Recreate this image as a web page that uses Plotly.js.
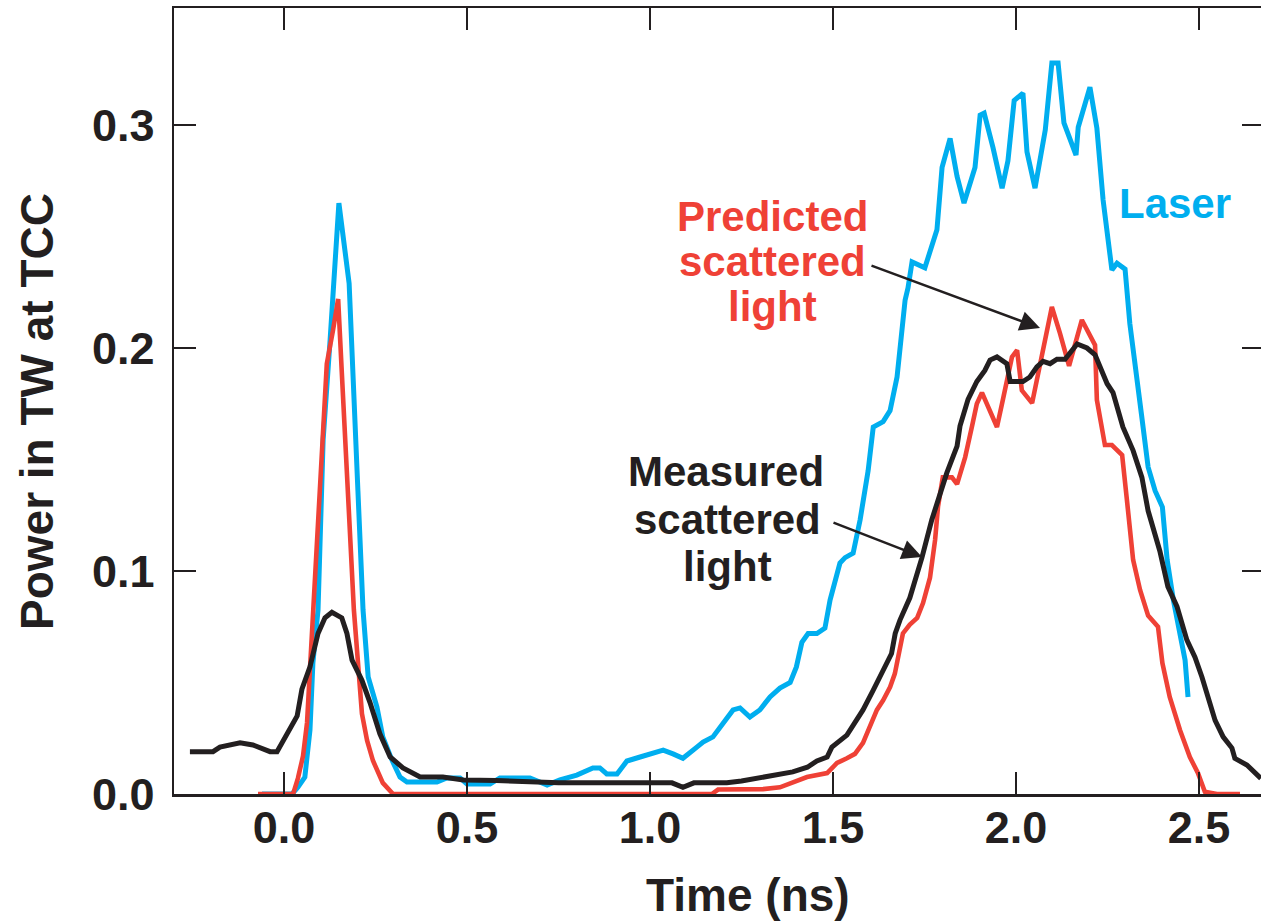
<!DOCTYPE html>
<html>
<head>
<meta charset="utf-8">
<script src="https://cdn.plot.ly/plotly-3.0.1.min.js"></script>
<style>
html, body { margin: 0; padding: 0; overflow: hidden; background: #fff; }
#chart { width: 1265px; height: 921px; }
</style>
</head>
<body>
<div id="chart"></div>
<script>
// ---- Data ----
const laserTime = [-0.06,0.022,0.038,0.057,0.071,0.079,0.093,0.107,0.126,0.145,0.150,0.178,0.189,0.202,0.216,0.23,0.254,0.27,0.295,0.317,0.336,0.418,0.445,0.481,0.50,0.563,0.59,0.672,0.719,0.754,0.80,0.844,0.863,0.882,0.91,0.937,0.973,1.0,1.036,1.063,1.09,1.128,1.145,1.172,1.2,1.227,1.246,1.273,1.30,1.328,1.355,1.383,1.40,1.415,1.432,1.456,1.478,1.492,1.519,1.533,1.555,1.574,1.596,1.61,1.637,1.656,1.675,1.689,1.697,1.705,1.716,1.751,1.784,1.798,1.82,1.839,1.858,1.888,1.902,1.913,1.937,1.962,1.978,1.995,2.019,2.03,2.052,2.08,2.098,2.115,2.131,2.164,2.17,2.202,2.221,2.238,2.262,2.276,2.298,2.311,2.325,2.343,2.361,2.38,2.40,2.413,2.43,2.443,2.462,2.47];
const laserPower = [0,0,0.003,0.0076,0.0287,0.0587,0.0825,0.159,0.2036,0.256,0.265,0.229,0.181,0.136,0.0825,0.0525,0.039,0.0256,0.0152,0.0076,0.0054,0.0054,0.0072,0.0072,0.0045,0.0045,0.0072,0.0072,0.004,0.0063,0.0085,0.0117,0.0117,0.009,0.009,0.0148,0.0166,0.018,0.0197,0.018,0.016,0.021,0.0233,0.0256,0.032,0.0377,0.0386,0.0345,0.0377,0.0435,0.0475,0.050,0.057,0.068,0.072,0.072,0.0744,0.087,0.1036,0.106,0.108,0.1229,0.145,0.1646,0.167,0.172,0.187,0.2126,0.2215,0.227,0.2386,0.236,0.253,0.281,0.294,0.277,0.265,0.281,0.3045,0.3054,0.290,0.2717,0.284,0.311,0.3143,0.288,0.2717,0.2978,0.3278,0.3278,0.301,0.2865,0.299,0.317,0.2986,0.2664,0.235,0.238,0.2354,0.211,0.1946,0.17,0.1466,0.136,0.1287,0.105,0.087,0.075,0.060,0.0435];

const predictedTime = [-0.071,0.025,0.038,0.052,0.063,0.079,0.093,0.107,0.117,0.134,0.148,0.158,0.175,0.191,0.213,0.227,0.243,0.27,0.298,1.169,1.186,1.309,1.355,1.39,1.429,1.484,1.511,1.538,1.56,1.582,1.601,1.62,1.637,1.656,1.669,1.683,1.691,1.71,1.73,1.746,1.765,1.779,1.787,1.80,1.825,1.839,1.861,1.88,1.893,1.907,1.929,1.948,1.964,1.978,1.989,2.003,2.016,2.044,2.066,2.085,2.098,2.12,2.145,2.18,2.216,2.221,2.243,2.262,2.29,2.303,2.32,2.339,2.361,2.388,2.40,2.42,2.448,2.475,2.497,2.516,2.549,2.612];
const predictedPower = [0,0,0.007,0.017,0.032,0.0825,0.12,0.166,0.193,0.208,0.222,0.189,0.136,0.0825,0.036,0.024,0.015,0.005,0,0,0.002,0.0022,0.003,0.0054,0.0076,0.0094,0.0139,0.016,0.018,0.0229,0.030,0.0377,0.042,0.048,0.054,0.066,0.072,0.076,0.079,0.0856,0.097,0.114,0.129,0.142,0.142,0.139,0.151,0.165,0.175,0.180,0.172,0.1646,0.1767,0.189,0.196,0.199,0.181,0.1753,0.193,0.2067,0.2184,0.2067,0.192,0.2126,0.2013,0.1767,0.1565,0.1565,0.152,0.132,0.105,0.0915,0.080,0.075,0.0587,0.0435,0.0287,0.0166,0.0094,0.001,0,0];

const measuredTime = [-0.257,-0.194,-0.175,-0.12,-0.085,-0.038,-0.019,0.036,0.049,0.071,0.093,0.112,0.131,0.158,0.172,0.186,0.213,0.235,0.262,0.29,0.325,0.372,0.434,0.49,0.58,0.75,1.06,1.09,1.12,1.21,1.25,1.30,1.347,1.39,1.43,1.456,1.484,1.497,1.538,1.555,1.582,1.61,1.637,1.66,1.67,1.683,1.71,1.743,1.77,1.79,1.811,1.839,1.847,1.869,1.893,1.915,1.929,1.948,1.975,1.984,2.019,2.038,2.057,2.074,2.093,2.112,2.134,2.167,2.194,2.216,2.235,2.249,2.265,2.292,2.32,2.344,2.361,2.393,2.415,2.44,2.467,2.489,2.508,2.522,2.544,2.566,2.59,2.598,2.631,2.669];
const measuredPower = [0.019,0.019,0.021,0.023,0.022,0.019,0.019,0.035,0.047,0.057,0.072,0.079,0.0815,0.079,0.072,0.060,0.051,0.041,0.027,0.0166,0.0117,0.0076,0.0076,0.0063,0.006,0.005,0.005,0.003,0.005,0.005,0.0058,0.0072,0.009,0.0099,0.012,0.0148,0.0166,0.021,0.0264,0.031,0.0377,0.0466,0.0556,0.063,0.072,0.078,0.088,0.106,0.123,0.133,0.144,0.156,0.165,0.177,0.185,0.190,0.1946,0.196,0.193,0.185,0.185,0.187,0.1915,0.194,0.193,0.195,0.195,0.2018,0.200,0.197,0.190,0.184,0.18,0.1646,0.154,0.142,0.127,0.109,0.093,0.084,0.069,0.0614,0.0525,0.045,0.033,0.0256,0.0206,0.016,0.013,0.007];

const xTickVals = [0, 0.5, 1.0, 1.5, 2.0, 2.5];
const xTickText = ['0.0', '0.5', '1.0', '1.5', '2.0', '2.5'];
const yTickVals = [0, 0.1, 0.2, 0.3];
const yTickText = ['0.0', '0.1', '0.2', '0.3'];

// ---- Styling ----
const CYAN = '#00AEEF', RED = '#EF4136', BLACK = '#231F20';
const FAM = '"Liberation Sans", Arial, Helvetica, sans-serif';
const M = {l: 174, t: 8, w: 1090, h: 786};
const XR = [-0.3005, 2.6776], YR = [0, 0.3525];
// pixel -> paper / axis helpers for label placement
const px = x => (x - M.l) / M.w;
const py = y => (M.t + M.h - y) / M.h;
const dx = x => XR[0] + (x - M.l) / M.w * (XR[1] - XR[0]);
const dy = y => YR[0] + (M.t + M.h - y) / M.h * (YR[1] - YR[0]);

const traces = [
  {x: laserTime, y: laserPower, mode: 'lines', line: {color: CYAN, width: 5}, name: 'Laser'},
  {x: predictedTime, y: predictedPower, mode: 'lines', line: {color: RED, width: 4.6}, name: 'Predicted'},
  {x: measuredTime, y: measuredPower, mode: 'lines', line: {color: BLACK, width: 5}, name: 'Measured'}
];

function label(text, xc, yc, color, size) {
  return {text: text, xref: 'paper', yref: 'paper', x: px(xc), y: py(yc),
          xanchor: 'center', yanchor: 'middle', showarrow: false,
          font: {family: FAM, size: size, color: color, weight: 700}};
}
function arrow(tailX, tailY, headX, headY) {
  return {text: '', xref: 'x', yref: 'y', x: dx(headX), y: dy(headY),
          ax: tailX - headX, ay: tailY - headY, showarrow: true,
          arrowhead: 2, arrowsize: 1.6, arrowwidth: 2.5, arrowcolor: BLACK, standoff: 0, startstandoff: 0};
}

const annotations = [
  label('Laser', 1175, 203, CYAN, 42),
  label('Predicted', 773, 216, RED, 42),
  label('scattered', 773, 261, RED, 42),
  label('light', 772, 306, RED, 42),
  label('Measured', 726, 472, BLACK, 42),
  label('scattered', 727, 519, BLACK, 42),
  label('light', 727, 566, BLACK, 42),
  arrow(870, 265, 1040, 328),
  arrow(832, 522, 922, 557),
  label('Time (ns)', 748, 895, BLACK, 46),
  Object.assign(label('Power in TW at TCC', 37, 412, BLACK, 46), {textangle: -90})
];

const axisCommon = {
  showgrid: false, zeroline: false, showline: true, linewidth: 2.5, linecolor: BLACK,
  mirror: 'ticks', ticks: 'inside', ticklen: 22, tickwidth: 2, tickcolor: BLACK,
  tickfont: {family: FAM, size: 45, color: BLACK, weight: 700}
};

const layout = {
  width: 1265, height: 921,
  margin: {l: M.l, r: 1265 - M.l - M.w, t: M.t, b: 921 - M.t - M.h, pad: 0},
  paper_bgcolor: '#ffffff', plot_bgcolor: '#ffffff',
  showlegend: false,
  xaxis: Object.assign({}, axisCommon, {range: XR, tickmode: 'array', tickvals: xTickVals, ticktext: xTickText, ticklabelstandoff: -8}),
  yaxis: Object.assign({}, axisCommon, {range: YR, tickmode: 'array', tickvals: yTickVals, ticktext: yTickText, ticklabelstandoff: 8}),
  annotations: annotations
};

Plotly.newPlot('chart', traces, layout, {staticPlot: true, displayModeBar: false});
</script>
</body>
</html>
